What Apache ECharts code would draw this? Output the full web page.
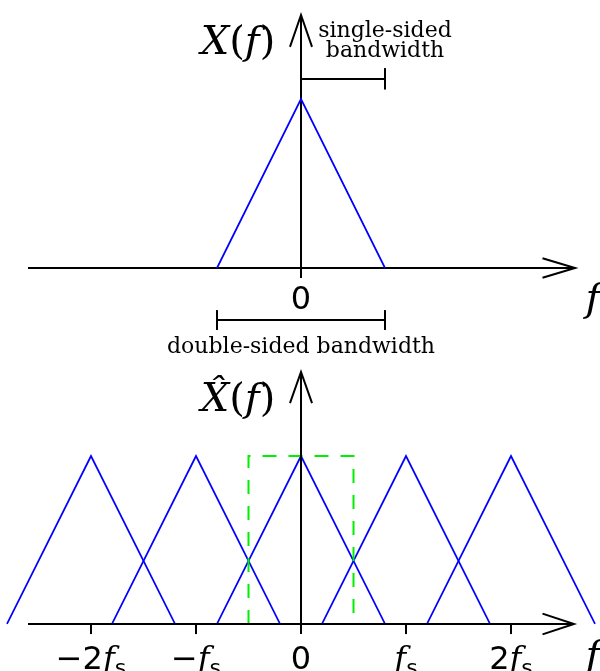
<!DOCTYPE html>
<html>
<head>
<meta charset="utf-8">
<script src="https://cdn.jsdelivr.net/npm/echarts@6/dist/echarts.min.js"></script>
<style>
html,body{margin:0;padding:0;background:#fff;}
#main{width:600px;height:671px;}
</style>
</head>
<body>
<div id="main"></div>
<script>
// ---------- data (units: x in multiples of fs, y relative to spectrum peak) ----------
// top spectrum X(f)
var topTriangle = [[-0.8, 0], [0, 1], [0.8, 0]];
// bottom sampled spectrum: copies centred at k*fs
var triM2 = [[-2.8, 0], [-2, 1], [-1.2, 0]];
var triM1 = [[-1.8, 0], [-1, 1], [-0.2, 0]];
var tri0  = [[-0.8, 0], [0, 1], [0.8, 0]];
var triP1 = [[0.2, 0], [1, 1], [1.8, 0]];
var triP2 = [[1.2, 0], [2, 1], [2.8, 0]];
// Nyquist window (dashed green)
var nyquistBox = [[-0.5, 0], [-0.5, 1], [0.5, 1], [0.5, 0]];
// ticks of the lower axis
var tickValues = [-2, -1, 0, 1, 2];
var tickPrefixes = ['\u22122', '\u2212', '0', '', '2'];
// bandwidth brackets
var singleBand = [0, 0.8];
var doubleBand = [-0.8, 0.8];

// ---------- helpers ----------
var BLACK = '#000000', BLUE = '#0000ff', GREEN = '#00ee00';
function seg(data, xi, color, width, type) {
  return {
    type: 'line', xAxisIndex: xi, yAxisIndex: xi, data: data,
    symbol: 'none', showSymbol: false, silent: true, clip: false, animation: false,
    lineStyle: {color: color, width: width, type: type || 'solid', join: 'miter', cap: 'butt', opacity: 1},
    z: 2
  };
}
function txt(xi, x, y, text, rich, z) {
  return {
    type: 'scatter', xAxisIndex: xi, yAxisIndex: xi, symbolSize: 0, silent: true,
    animation: false, clip: false, z: z || 5,
    itemStyle: {color: '#000', opacity: 1},
    data: [[x, y]],
    label: {show: true, position: [0, 0], formatter: text, rich: rich, color: '#000', opacity: 1,
            align: 'center', verticalAlign: 'middle', textBorderWidth: 0}
  };
}
var richMath = {
  i: {fontFamily: 'DejaVu Serif', fontStyle: 'italic', fontSize: 40, color: '#000'},
  n: {fontFamily: 'DejaVu Serif', fontSize: 40, color: '#000'}
};
var richTick = {
  n: {fontFamily: 'DejaVu Sans', fontSize: 32, color: '#000', lineHeight: 38, verticalAlign: 'bottom'},
  i: {fontFamily: 'DejaVu Serif', fontStyle: 'italic', fontSize: 32, color: '#000', lineHeight: 38, verticalAlign: 'bottom'},
  s: {fontFamily: 'DejaVu Sans', fontSize: 22, color: '#000', lineHeight: 28, verticalAlign: 'bottom', padding: [0, 0, -4, 0]}
};
var richSmall = {
  t: {fontFamily: 'DejaVu Serif', fontSize: 22, color: '#000', lineHeight: 20, align: 'center'}
};

var series = [];
// ----- top panel (index 0) -----
series.push(seg([[-2.6, 0], [2.61, 0]], 0, BLACK, 2));
series.push(seg([[2.3, 0.058], [2.61, 0], [2.3, -0.058]], 0, BLACK, 2));
series.push(seg([[0, -0.059], [0, 1.497]], 0, BLACK, 2));
series.push(seg([[-0.105, 1.308], [0, 1.497], [0.105, 1.308]], 0, BLACK, 2));
series.push(seg(topTriangle, 0, BLUE, 1.7));
series.push(seg([[singleBand[0], 1.118], [singleBand[1], 1.118]], 0, BLACK, 2));
series.push(seg([[singleBand[1], 1.183], [singleBand[1], 1.056]], 0, BLACK, 2));
series.push(seg([[doubleBand[0], -0.308], [doubleBand[1], -0.308]], 0, BLACK, 2));
series.push(seg([[doubleBand[0], -0.249], [doubleBand[0], -0.367]], 0, BLACK, 2));
series.push(seg([[doubleBand[1], -0.249], [doubleBand[1], -0.367]], 0, BLACK, 2));
series.push(txt(0, -0.6, 1.33, '{i|X}{n|(}{i|f}{n|)}', richMath));
series.push(txt(0, 0.8, 1.34, '{t|single-sided}\n{t|bandwidth}', richSmall));
series.push(txt(0, 0, -0.47, '{t|double-sided bandwidth}', richSmall));
series.push(txt(0, 0, -0.178, '{n|0}', richTick));
series.push(txt(0, 2.78, -0.19, '{i|f}', richMath));

// ----- bottom panel (index 1) -----
series.push(seg(triM2, 1, BLUE, 1.7));
series.push(seg(triM1, 1, BLUE, 1.7));
series.push(seg(tri0, 1, BLUE, 1.7));
series.push(seg(triP1, 1, BLUE, 1.7));
series.push(seg(triP2, 1, BLUE, 1.7));
series.push(seg(nyquistBox, 1, GREEN, 2, [14, 12]));
series.push(seg([[-2.6, 0], [2.6, 0]], 1, BLACK, 2));
series.push(seg([[2.3, 0.062], [2.6, 0], [2.3, -0.062]], 1, BLACK, 2));
series.push(seg([[0, -0.06], [0, 1.5]], 1, BLACK, 2));
series.push(seg([[-0.105, 1.315], [0, 1.5], [0.105, 1.315]], 1, BLACK, 2));
tickValues.forEach(function (v, k) {
  if (v !== 0) series.push(seg([[v, 0], [v, -0.06]], 1, BLACK, 2));
  var lbl = v === 0 ? '{n|0}' : '{n|' + tickPrefixes[k] + '}{i|f}{s|s}';
  series.push(txt(1, v, -0.2, lbl, richTick));
});
series.push(txt(1, -0.6, 1.33, '{i|X\u0302}{n|(}{i|f}{n|)}', richMath));
series.push(txt(1, 2.78, -0.2, '{i|f}', richMath));

var XMIN = -2.8667, XMAX = 2.8476;
var hiddenX = function (i) {
  return {type: 'value', gridIndex: i, min: XMIN, max: XMAX, show: false};
};
var hiddenY = function (i, mn, mx) {
  return {type: 'value', gridIndex: i, min: mn, max: mx, show: false};
};

var chart = echarts.init(document.getElementById('main'), null, {renderer: 'canvas'});
chart.setOption({
  backgroundColor: '#ffffff',
  animation: false,
  grid: [
    {left: 0, width: 600, top: 14.5, height: 338, containLabel: false},
    {left: 0, width: 600, top: 372, height: 299, containLabel: false}
  ],
  xAxis: [hiddenX(0), hiddenX(1)],
  yAxis: [hiddenY(0, -0.5, 1.5), hiddenY(1, -0.2798, 1.5)],
  series: series
});
</script>
</body>
</html>
